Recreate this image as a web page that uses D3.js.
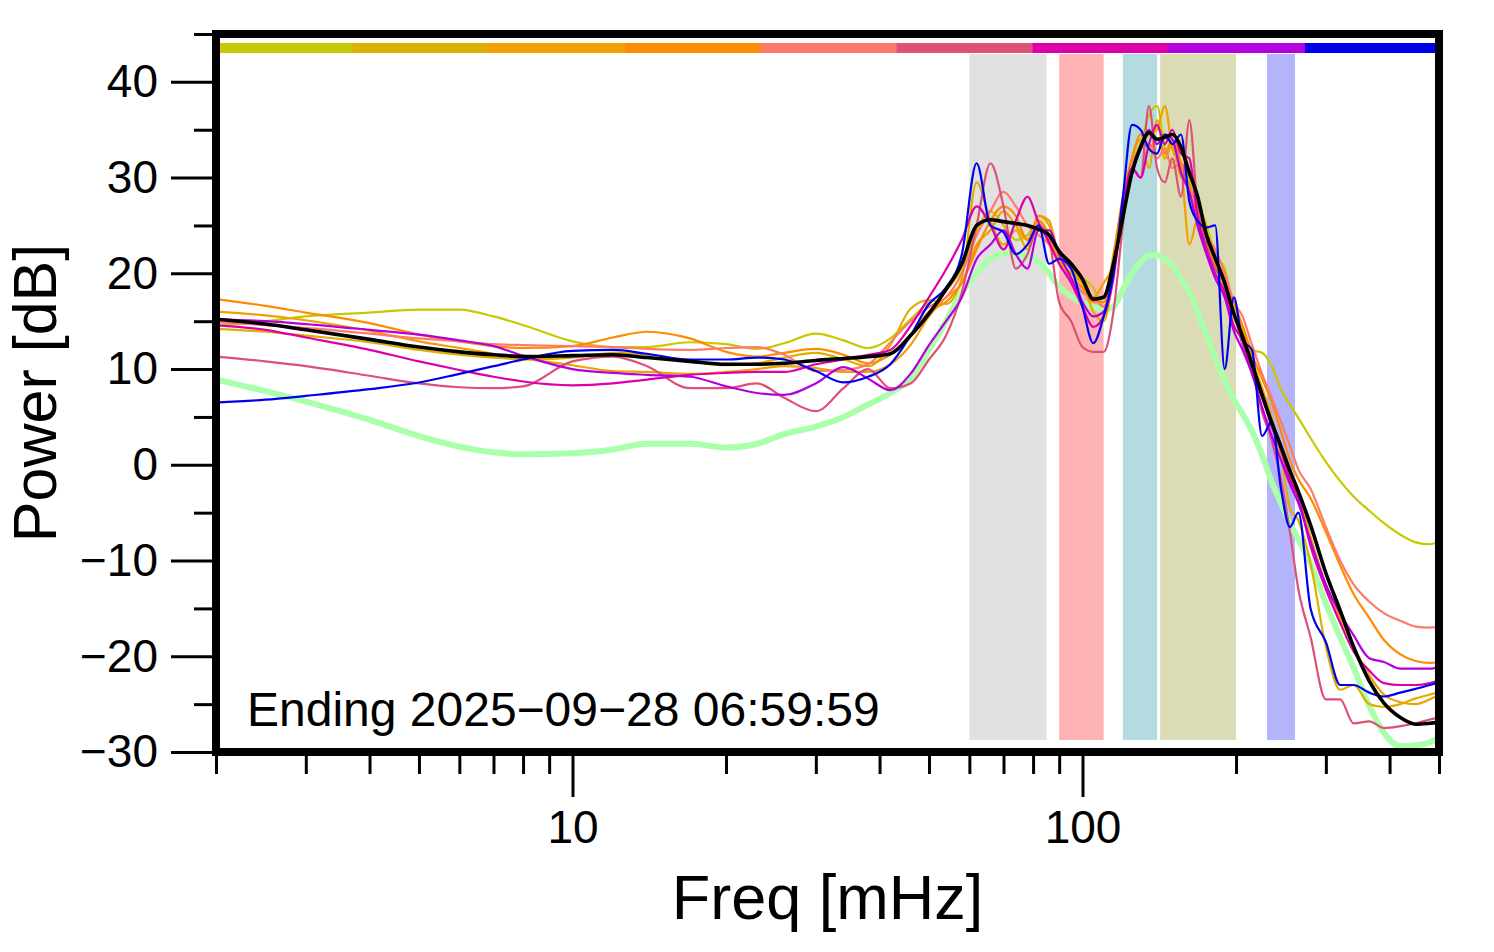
<!DOCTYPE html>
<html><head><meta charset="utf-8">
<script src="https://cdn.jsdelivr.net/npm/d3@7"></script>
<style>
body{margin:0;background:#fff}
svg{display:block}
text{font-family:"Liberation Sans",Arial,Helvetica,sans-serif;fill:#000}
</style>
</head><body>
<svg id="chart" width="1494" height="952"></svg>
<script>
// ---------------- data ----------------
const freqs = [2, 2.5, 3, 4, 5, 6, 7, 8, 10, 12,
  14, 17, 20, 23, 26, 30, 34, 38, 42, 46,
  50, 54, 58, 62, 66, 70, 74, 78, 82, 86,
  90, 95, 100, 105, 110, 115, 120, 125, 130, 135,
  140, 145, 150, 156, 162, 168, 175, 182, 190, 198,
  206, 215, 225, 235, 245, 255, 265, 280, 300, 320,
  340, 365, 390, 420, 450, 480, 500];

const refDB = [8.9, 7.7, 6.6, 4.7, 3.0, 1.9, 1.3, 1.1, 1.2, 1.6,
  2.2, 2.2, 1.8, 2.2, 3.2, 4.0, 5.0, 6.3, 7.5, 9.0,
  12.0, 15.0, 18.0, 20.0, 21.5, 22.1, 22.0, 21.8, 21.2, 20.0,
  18.6, 17.6, 16.9, 16.5, 16.2, 16.5, 18.3, 20.0, 21.2, 21.9,
  21.9, 21.5, 20.8, 19.4, 18.0, 16.0, 13.5, 11.2, 8.8, 6.8,
  5.3, 3.5, 1.0, -1.8, -4.0, -6.1, -7.8, -10.3, -14.5, -18.0,
  -21.2, -25.2, -28.0, -29.4, -29.3, -29.0, -28.5];

const day1DB = [14.5, 15.0, 15.5, 15.9, 16.2, 16.2, 15.5, 14.6, 12.9, 12.3,
  12.3, 12.8, 12.6, 12.1, 12.7, 13.7, 13.0, 12.2, 13.2, 15.2,
  17.0, 18.2, 20.5, 24.5, 26.5, 25.0, 23.5, 24.0, 25.5, 24.0,
  21.5, 20.0, 19.5, 18.5, 16.5, 21.0, 27.0, 31.5, 33.5, 36.5,
  37.5, 33.0, 31.5, 32.5, 30.0, 27.5, 25.0, 22.0, 20.5, 16.5,
  14.5, 12.0, 11.7, 10.3, 7.9, 6.3, 4.9, 2.8, 0.3, -1.7,
  -3.3, -4.8, -6.1, -7.3, -8.1, -8.3, -8.0];

const day2DB = [14.2, 13.9, 13.5, 12.8, 12.0, 11.5, 11.2, 11.0, 11.2, 11.7,
  11.5, 10.8, 10.4, 10.6, 11.2, 11.7, 11.0, 10.3, 12.5, 16.3,
  17.2, 16.8, 19.5, 29.5, 25.5, 23.0, 24.5, 22.5, 26.0, 25.0,
  22.0, 20.5, 19.0, 16.0, 15.0, 20.0, 27.5, 32.0, 34.0, 31.0,
  36.0, 32.0, 33.5, 30.0, 29.5, 25.5, 23.0, 21.0, 18.5, 15.5,
  13.5, 10.5, 8.0, 5.0, 1.0, -4.5, -5.8, -10.3, -19.0, -23.5,
  -23.0, -25.0, -25.3, -25.0, -24.4, -24.0, -23.7];

const day3DB = [16.0, 15.6, 15.1, 14.0, 12.9, 12.2, 11.6, 11.1, 10.4, 9.8,
  9.7, 9.5, 9.7, 10.0, 10.3, 10.1, 9.7, 9.7, 10.5, 12.5,
  15.5, 17.5, 19.0, 23.0, 24.5, 26.5, 25.0, 23.5, 26.0, 25.5,
  21.5, 20.0, 19.0, 17.5, 19.0, 21.0, 26.5, 31.0, 33.5, 34.5,
  35.0, 37.5, 33.0, 31.0, 23.0, 25.5, 24.0, 21.0, 19.0, 16.0,
  14.0, 11.0, 8.0, 4.5, 1.5, -1.0, -3.0, -7.5, -12.5, -16.0,
  -19.0, -22.0, -24.0, -24.8, -25.0, -24.5, -24.0];

const day4DB = [17.3, 16.6, 15.9, 14.8, 13.6, 12.9, 12.4, 12.2, 12.4, 13.3,
  13.9, 13.2, 11.8, 11.3, 11.7, 12.1, 11.5, 10.6, 11.5, 13.5,
  16.0, 17.0, 19.0, 22.5, 25.5, 27.0, 26.0, 23.5, 25.5, 24.0,
  21.0, 19.5, 18.5, 17.0, 17.0, 22.0, 28.0, 32.0, 34.5, 33.0,
  34.0, 32.5, 34.0, 31.5, 28.5, 26.0, 23.5, 21.5, 19.5, 17.0,
  14.5, 11.5, 9.0, 6.5, 3.5, 0.5, -1.5, -3.5, -7.0, -10.5,
  -13.5, -16.0, -18.3, -19.8, -20.5, -20.7, -20.6];

const day5DB = [14.9, 14.6, 14.3, 13.7, 13.2, 12.9, 12.6, 12.5, 12.4, 12.3,
  12.1, 12.0, 12.2, 12.3, 11.5, 9.8, 9.9, 10.5, 12.8, 15.0,
  16.5, 17.5, 20.0, 24.0, 26.5, 28.5, 27.0, 25.0, 24.0, 23.0,
  21.0, 19.5, 18.0, 17.5, 16.5, 20.5, 27.0, 31.5, 33.0, 33.5,
  32.0, 33.0, 31.0, 31.5, 29.0, 26.5, 24.0, 22.5, 20.0, 17.0,
  15.5, 12.5, 9.5, 7.0, 4.5, 2.0, -0.5, -2.5, -6.5, -10.0,
  -12.5, -14.3, -15.5, -16.3, -16.9, -17.0, -16.9];

const day6DB = [11.3, 10.8, 10.3, 9.3, 8.5, 8.1, 8.0, 8.2, 10.8, 11.3,
  10.3, 8.0, 8.0, 8.5, 7.0, 5.6, 8.0, 10.0, 8.0, 8.5,
  11.0, 13.5, 18.0, 25.0, 31.5, 27.0, 20.5, 22.0, 25.0, 23.5,
  17.0, 15.0, 12.3, 11.8, 11.8, 16.0, 25.0, 31.0, 30.0, 37.5,
  31.0, 29.5, 32.0, 28.0, 36.0, 27.0, 23.0, 20.5, 19.0, 16.0,
  12.5, 10.0, 5.5, 2.5, -1.5, -7.0, -13.0, -18.0, -24.5, -24.5,
  -27.0, -26.8, -27.5, -27.3, -27.0, -26.6, -26.4];

const day7DB = [14.6, 14.1, 13.3, 12.0, 10.8, 9.9, 9.2, 8.7, 8.3, 8.5,
  8.9, 9.4, 9.6, 9.7, 9.7, 10.5, 11.0, 11.5, 12.0, 14.5,
  17.5, 20.4, 23.5, 27.0, 25.0, 22.5, 25.5, 28.0, 25.3, 23.2,
  21.0, 19.0, 16.5, 14.4, 15.5, 19.5, 27.0, 31.0, 30.0, 33.5,
  35.5, 33.5, 35.0, 32.5, 32.0, 26.0, 22.5, 20.0, 18.0, 14.5,
  13.0, 9.5, 7.0, 4.0, 1.5, -1.5, -3.5, -8.5, -13.0, -16.5,
  -19.5, -21.5, -22.8, -23.0, -23.0, -22.8, -22.5];

const day8DB = [15.2, 15.0, 14.7, 14.1, 13.6, 13.0, 12.4, 11.4, 10.0, 9.6,
  9.4, 9.2, 8.2, 7.5, 7.3, 8.5, 10.2, 9.0, 7.8, 9.5,
  12.5, 15.0, 17.5, 21.5, 23.0, 24.5, 22.0, 20.5, 24.5, 24.5,
  22.0, 19.5, 17.0, 15.5, 16.0, 20.0, 26.5, 30.5, 33.0, 35.0,
  33.5, 34.5, 34.0, 30.5, 28.5, 25.0, 22.0, 19.5, 17.5, 14.0,
  12.0, 9.5, 6.0, 3.0, 0.5, -2.0, -4.0, -8.0, -12.5, -15.5,
  -17.8, -20.2, -20.6, -21.3, -21.3, -21.3, -21.1];

const day9DB = [6.5, 6.8, 7.2, 7.9, 8.6, 9.5, 10.3, 11.0, 11.9, 12.0,
  11.6, 11.0, 11.0, 11.2, 11.0, 9.8, 8.6, 9.2, 10.5, 13.5,
  16.8, 18.5, 22.0, 31.5, 25.0, 24.3, 22.0, 23.0, 25.0, 21.0,
  21.5, 20.5, 16.5, 12.7, 15.5, 20.0, 28.0, 35.5, 35.0, 33.0,
  32.5, 34.5, 33.5, 34.5, 27.5, 25.5, 24.8, 25.0, 10.0, 17.5,
  13.0, 12.0, 3.0, 4.5, -2.5, -6.5, -5.0, -15.0, -18.5, -23.0,
  -23.0, -23.8, -24.2, -23.8, -23.4, -23.0, -22.7];

const meanDB = [15.2, 14.7, 14.1, 13.1, 12.3, 11.8, 11.5, 11.3, 11.4, 11.5,
  11.2, 10.8, 10.5, 10.5, 10.6, 10.9, 11.1, 11.3, 11.6, 13.5,
  15.8, 18.3, 21.0, 25.0, 25.6, 25.4, 25.2, 25.0, 24.6, 24.0,
  22.3, 21.0, 19.4, 17.3, 17.5, 21.0, 25.9, 30.5, 33.2, 34.7,
  34.0, 34.2, 34.5, 33.2, 30.5, 28.1, 24.0, 21.6, 19.0, 15.8,
  13.4, 10.5, 7.3, 4.4, 1.9, -0.6, -2.8, -6.3, -11.3, -15.2,
  -19.0, -22.6, -24.9, -26.4, -27.1, -27.0, -26.9];

const dayColors = ["#c8c800", "#ddb000", "#f0a000", "#ff8c00", "#ff7a6a",
                   "#dd5078", "#dd00aa", "#b400dd", "#0000ee"];
const dayDB = [day1DB, day2DB, day3DB, day4DB, day5DB, day6DB, day7DB, day8DB, day9DB];

const bandStart = [60, 90, 120, 142, 230];
const bandEnd   = [85, 110, 140, 200, 261];
const bandColors = ["#e1e1e1", "#ffb4b4", "#b4dce0", "#dbdbb5", "#b4b4fa"];

const yMajorTicks = [-30, -20, -10, 0, 10, 20, 30, 40];
const yMinorTicks = [-25, -15, -5, 5, 15, 25, 35, 45];
const xMajorTicks = [10, 100];
const xMinorTicks = [2, 3, 4, 5, 6, 7, 8, 9, 20, 30, 40, 50, 60, 70, 80, 90, 200, 300, 400, 500];

const caption = "Ending 2025\u221209\u221228 06:59:59";
const xTitle = "Freq [mHz]";
const yTitle = "Power [dB]";

// ---------------- layout ----------------
const svg = d3.select("#chart");
const L = 216, R = 1439, T = 34, B = 752;
const x = d3.scaleLog().domain([2, 500]).range([L, R]);
const y = d3.scaleLinear().domain([-30, 45]).range([B, T]);
const minus = v => String(v).replace("-", "\u2212");

svg.append("defs").append("clipPath").attr("id", "plotclip")
  .append("rect").attr("x", L).attr("y", T).attr("width", R - L).attr("height", B - T);

const plot = svg.append("g").attr("clip-path", "url(#plotclip)");

// shaded frequency bands
plot.selectAll("rect.band").data(bandStart).join("rect")
  .attr("class", "band")
  .attr("x", (d) => x(d))
  .attr("width", (d, i) => x(bandEnd[i]) - x(d))
  .attr("y", T + 20)
  .attr("height", (B - 12) - (T + 20))
  .attr("fill", (d, i) => bandColors[i]);

// colour bar on top (one segment per day)
const seg = d3.scaleBand().domain(d3.range(dayColors.length)).range([L, R + 2]);
svg.selectAll("rect.seg").data(dayColors).join("rect")
  .attr("class", "seg")
  .attr("x", (d, i) => seg(i))
  .attr("width", seg.bandwidth() + 0.5)
  .attr("y", T + 9)
  .attr("height", 10)
  .attr("fill", d => d);

const line = d3.line()
  .x((d, i) => x(freqs[i]))
  .y(d => y(d))
  .curve(d3.curveMonotoneX);

plot.append("path").datum(refDB)
  .attr("d", line).attr("fill", "none")
  .attr("stroke", "#aaffaa").attr("stroke-width", 6).attr("stroke-linejoin", "round");

plot.selectAll("path.day").data(dayDB).join("path")
  .attr("class", "day")
  .attr("d", line).attr("fill", "none")
  .attr("stroke", (d, i) => dayColors[i]).attr("stroke-width", 2.2)
  .attr("stroke-linejoin", "round");

plot.append("path").datum(meanDB)
  .attr("d", line).attr("fill", "none")
  .attr("stroke", "#000").attr("stroke-width", 3.6).attr("stroke-linejoin", "round");

// axes
const styleAxis = g => {
  g.select(".domain").remove();
  g.selectAll(".tick line").attr("stroke", "#000").attr("stroke-width", 3);
  g.selectAll(".tick text").attr("font-size", 46).attr("fill", "#000")
    .attr("font-family", '"Liberation Sans", Arial, sans-serif');
};

svg.append("g").attr("transform", `translate(${L},0)`)
  .call(d3.axisLeft(y).tickValues(yMajorTicks).tickSize(45).tickPadding(13).tickFormat(minus))
  .call(styleAxis);
svg.append("g").attr("transform", `translate(${L},0)`)
  .call(d3.axisLeft(y).tickValues(yMinorTicks).tickSize(22).tickFormat(""))
  .call(styleAxis);
svg.append("g").attr("transform", `translate(0,${B})`)
  .call(d3.axisBottom(x).tickValues(xMajorTicks).tickSize(45).tickPadding(13).tickFormat(d3.format("d")))
  .call(styleAxis);
svg.append("g").attr("transform", `translate(0,${B})`)
  .call(d3.axisBottom(x).tickValues(xMinorTicks).tickSize(22).tickFormat(""))
  .call(styleAxis);

// frame
svg.append("rect").attr("x", L).attr("y", T).attr("width", R - L).attr("height", B - T)
  .attr("fill", "none").attr("stroke", "#000").attr("stroke-width", 8);

// texts
svg.append("text").attr("x", 247).attr("y", 726).attr("font-size", 48).text(caption);
svg.append("text").attr("x", (L + R) / 2).attr("y", 919).attr("text-anchor", "middle")
  .attr("font-size", 63).text(xTitle);
svg.append("text").attr("transform", `translate(56,${(T + B) / 2}) rotate(-90)`)
  .attr("text-anchor", "middle").attr("font-size", 61).text(yTitle);
</script>
</body></html>
